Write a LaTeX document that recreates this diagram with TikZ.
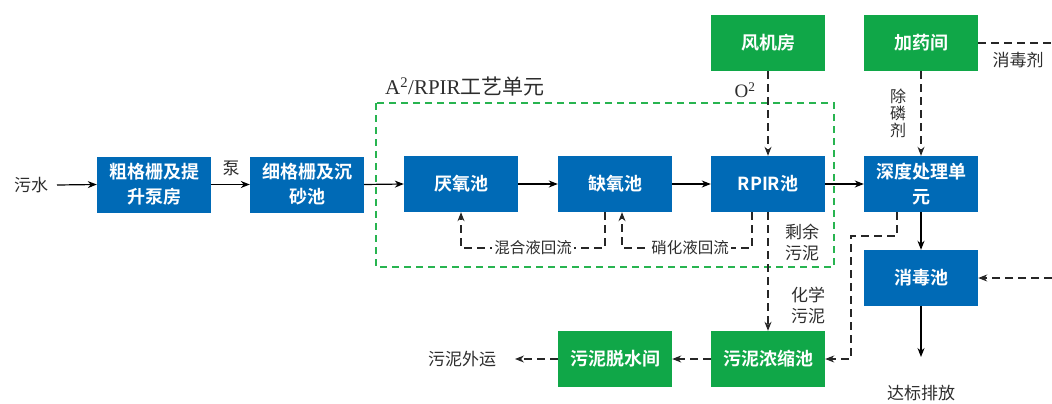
\documentclass[tikz,border=0pt]{standalone}
\usepackage{fontspec}
\setmainfont{Liberation Serif}
\newfontfamily\cjk{Noto Sans CJK SC}
\newfontfamily\cjkb{Noto Sans CJK SC Bold}
\usetikzlibrary{arrows.meta,calc}
\definecolor{bblue}{RGB}{0,106,182}
\definecolor{bgreen}{RGB}{16,167,72}
\definecolor{dgreen}{RGB}{40,180,80}
\definecolor{txt}{RGB}{45,45,45}
\begin{document}
\begin{tikzpicture}[x=1pt,y=-1pt,
  box/.style={rectangle,minimum width=114pt,minimum height=56pt,inner sep=0pt,
    text=white,font=\cjkb\fontsize{18}{25}\selectfont,align=center},
  bbox/.style={box,fill=bblue},
  gbox/.style={box,fill=bgreen},
  lab/.style={text=txt,font=\cjk\fontsize{17}{21}\selectfont,inner sep=1pt,align=center},
  arr/.style={line width=1.2pt,-{Stealth[length=9pt,width=7pt]}},
  dline/.style={line width=1.1pt,draw=black!85,dash pattern=on 8pt off 5pt},
  darr/.style={dline,-{Stealth[length=9pt,width=7pt]}}]
\useasboundingbox (0,0) rectangle (1052,404);
% green dashed frame
\draw[dgreen,line width=1.1pt,dash pattern=on 7pt off 5pt] (376,103) rectangle (834,267);
\node[text=txt,font=\fontsize{21}{24}\selectfont,anchor=west,inner sep=0pt] (ttl) at (385,87) {A\textsuperscript{2}/RPIR{\cjk 工艺单元}};
% boxes
\node[bbox] (b1) at (154,184.5) {粗格栅及提\\升泵房};
\node[bbox] (b2) at (307,184.5) {细格栅及沉\\砂池};
\node[bbox] (b3) at (461,184) {厌氧池};
\node[bbox] (b4) at (615,184) {缺氧池};
\node[bbox] (b5) at (768,184) {RPIR池};
\node[bbox] (b6) at (921,184) {深度处理单\\元};
\node[bbox] (b7) at (921,278) {消毒池};
\node[gbox] (f1) at (768,43) {风机房};
\node[gbox] (f2) at (921,43) {加药间};
\node[gbox] (s1) at (768,359) {污泥浓缩池};
\node[gbox] (s2) at (615,359) {污泥脱水间};
% labels
\node[lab] (in) at (31,185) {污水};
\node[lab] (pump) at (231,168) {泵};
\node[lab] (out1) at (462,359) {污泥外运};
\node[lab] (out2) at (921,393) {达标排放};
\node[lab] (xdj) at (1018,60) {消毒剂};
\node[lab,font=\cjk\fontsize{16}{17}\selectfont] (clj) at (898,113) {除\\磷\\剂};
\node[lab] (syw) at (802,242) {剩余\\污泥};
\node[lab] (hxw) at (808,305) {化学\\污泥};
\node[text=txt,font=\fontsize{19}{22}\selectfont,inner sep=0pt] (o2) at (745,90) {O\textsuperscript{2}};
\coordinate (r1) at (1052,43);
\coordinate (r2) at (1052,278);
\coordinate (dis) at (921,357);
% solid flow
\draw[arr] (57,185) -- (b1.west);
\draw[arr] (b1) -- (b2);
\draw[arr] (b2.east) -- (b3.west);
\draw[arr] (b3) -- (b4);
\draw[arr] (b4) -- (b5);
\draw[arr] (b5) -- (b6);
\draw[arr] (b6) -- (b7);
\draw[arr] (b7.south) -- (dis);
% dashed
\draw[darr] (f1) -- (b5);
\draw[darr] (f2) -- (b6);
\draw[dline] (f2.east) -- (r1);
\draw[darr] (r2) -- (b7.east);
\draw[darr] (b5) -- (s1);
\draw[darr] (b6.south -| 897,0) -- (897,236) -- (851,236) -- (851,359) -- (s1.east);
\draw[darr] (s1) -- (s2);
\draw[darr] (s2.west) -- (515,359);
% recirculation
\draw[darr] (b4.south -| 605,0) -- (605,248) -- node[lab,fill=white,inner sep=2pt,font=\cjk\fontsize{15.5}{17}\selectfont]{混合液回流} (461,248) -- (b3.south);
\draw[darr] (b5.south -| 752,0) -- (752,248) -- node[lab,fill=white,inner sep=2pt,font=\cjk\fontsize{15.5}{17}\selectfont,xshift=3pt]{硝化液回流} (622,248) -- (b4.south -| 622,0);
\end{tikzpicture}
\end{document}
